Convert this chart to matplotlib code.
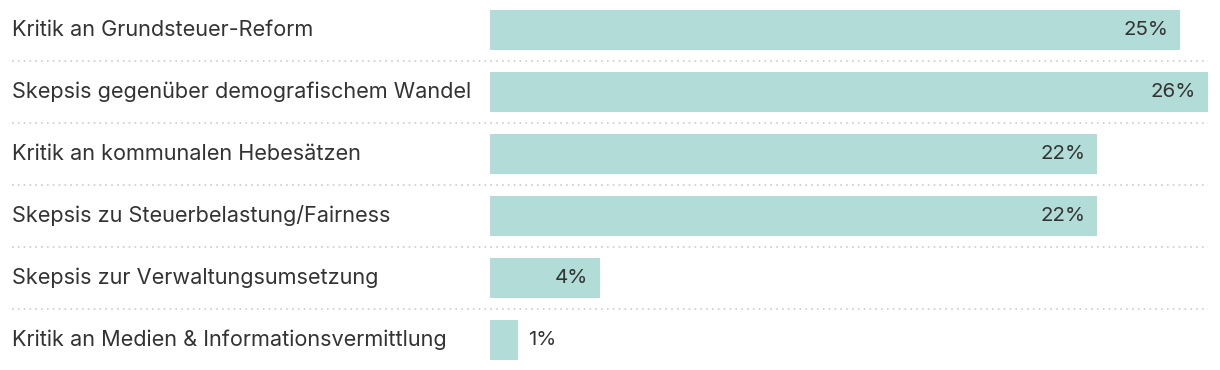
import matplotlib.pyplot as plt
import matplotlib.transforms as mtransforms

categories = [
    "Kritik an Grundsteuer-Reform",
    "Skepsis gegenüber demografischem Wandel",
    "Kritik an kommunalen Hebesätzen",
    "Skepsis zu Steuerbelastung/Fairness",
    "Skepsis zur Verwaltungsumsetzung",
    "Kritik an Medien & Informationsvermittlung",
]
values = [25, 26, 22, 22, 4, 1]

bar_color = "#b2dcd8"
text_color = "#333333"
plt.rcParams["font.family"] = ["Inter", "DejaVu Sans"]

W, H = 1220, 370
fig = plt.figure(figsize=(W / 100, H / 100), dpi=100)
left = 490 / W
ax = fig.add_axes([left, 0, 1 - left, 1])
px_per_pct = 27.6
ax.set_xlim(0, (W - 490) / px_per_pct)
pitch = 62
ax.set_ylim(len(values) - 1 + 30 / pitch, -30 / pitch)
ax.axis("off")

ys = list(range(len(values)))
ax.barh(ys, values, height=40 / pitch, color=bar_color, left=0)

pad = 12 / px_per_pct
for y, v in zip(ys, values):
    if v >= 3:
        ax.text(v - pad, y, f"{v}%", ha="right", va="center", fontsize=14.8, color=text_color)
    else:
        ax.text(v + 10 / px_per_pct, y, f"{v}%", ha="left", va="center", fontsize=14.8, color=text_color)

tr = mtransforms.blended_transform_factory(fig.transFigure, ax.transData)
for y, lab in zip(ys, categories):
    ax.text(12 / W, y, lab, transform=tr, ha="left", va="center", fontsize=15.6, color=text_color)

for y in ys[:-1]:
    ax.plot([12 / W, 1208 / W], [y + 0.5, y + 0.5], transform=tr, clip_on=False,
            color="#cccccc", lw=1.2, ls=(0, (1, 2.5)))

fig.savefig("out.png", dpi=100)
